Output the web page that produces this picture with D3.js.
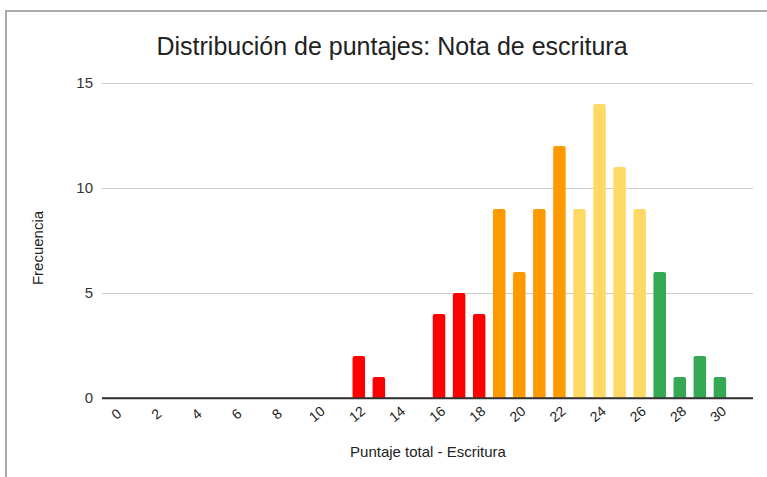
<!DOCTYPE html>
<html>
<head>
<meta charset="utf-8">
<script src="https://cdn.jsdelivr.net/npm/d3@7"></script>
<style>
  body { margin: 0; background: #fff; }
  svg { display: block; font-family: "Liberation Sans", Arial, sans-serif; }
</style>
</head>
<body>
<svg id="chart" width="767" height="477"></svg>
<script>
const scores = [12, 13, 16, 17, 18, 19, 20, 21, 22, 23, 24, 25, 26, 27, 28, 29, 30];
const counts = [2, 1, 4, 5, 4, 9, 6, 9, 12, 9, 14, 11, 9, 6, 1, 2, 1];
const levels = ['bajo', 'bajo', 'bajo', 'bajo', 'bajo', 'medio', 'medio', 'medio', 'medio',
  'bueno', 'bueno', 'bueno', 'bueno', 'alto', 'alto', 'alto', 'alto'];
const xTicks = [0, 2, 4, 6, 8, 10, 12, 14, 16, 18, 20, 22, 24, 26, 28, 30];
const yTicks = [0, 5, 10, 15];

const levelColor = { bajo: '#ff0000', medio: '#ff9900', bueno: '#ffd966', alto: '#34a853' };

const bars = scores.map((score, i) => ({ score, count: counts[i], level: levels[i] }));

const svg = d3.select('#chart');
const plotLeft = 102;
const plotRight = 753;
const plotTop = 83;
const plotBottom = 398;

const x = d3.scaleLinear().domain([-0.8, 31.65]).range([plotLeft, plotRight]);
const y = d3.scaleLinear().domain([0, 15]).range([plotBottom, plotTop]);
const barWidth = 12.5;

// marco del gráfico
svg.append('path')
  .attr('d', 'M6,477V11H767')
  .attr('fill', 'none')
  .attr('stroke', '#aaaaaa')
  .attr('stroke-width', 2);

svg.append('text')
  .attr('x', 392)
  .attr('y', 55)
  .attr('text-anchor', 'middle')
  .attr('font-size', 25)
  .attr('fill', '#222')
  .text('Distribución de puntajes: Nota de escritura');

const yAxis = svg.append('g')
  .attr('transform', `translate(${plotLeft},0)`)
  .call(d3.axisLeft(y).tickValues(yTicks).tickSize(-(plotRight - plotLeft)).tickPadding(9));
yAxis.select('.domain').remove();
yAxis.selectAll('.tick line')
  .attr('stroke', (d) => (d === 0 ? '#333' : '#cccccc'))
  .attr('stroke-width', (d) => (d === 0 ? 1.5 : 1));
yAxis.selectAll('.tick text')
  .attr('font-size', 15)
  .attr('fill', '#333')
  .attr('font-family', '"Liberation Sans", Arial, sans-serif');

function barPath(d) {
  const x0 = x(d.score) - barWidth / 2;
  const x1 = x0 + barWidth;
  const y0 = y(d.count);
  const r = 2;
  return `M${x0},${plotBottom}V${y0 + r}Q${x0},${y0} ${x0 + r},${y0}H${x1 - r}Q${x1},${y0} ${x1},${y0 + r}V${plotBottom}Z`;
}

svg.append('g')
  .selectAll('path')
  .data(bars)
  .join('path')
  .attr('d', barPath)
  .attr('fill', (d) => levelColor[d.level]);

// línea base encima de las barras
svg.append('line')
  .attr('x1', plotLeft).attr('x2', plotRight)
  .attr('y1', plotBottom).attr('y2', plotBottom)
  .attr('stroke', '#333')
  .attr('stroke-width', 1.5);

svg.append('g')
  .selectAll('text')
  .data(xTicks)
  .join('text')
  .attr('transform', (d) => `translate(${x(d) - 1},${plotBottom + 17}) rotate(-40)`)
  .attr('text-anchor', 'middle')
  .attr('dominant-baseline', 'middle')
  .attr('font-size', 14)
  .attr('fill', '#222')
  .text((d) => d);

svg.append('text')
  .attr('x', 428)
  .attr('y', 457)
  .attr('text-anchor', 'middle')
  .attr('font-size', 15)
  .attr('fill', '#222')
  .text('Puntaje total - Escritura');

svg.append('text')
  .attr('transform', 'translate(43,248) rotate(-90)')
  .attr('text-anchor', 'middle')
  .attr('font-size', 15)
  .attr('fill', '#222')
  .text('Frecuencia');
</script>
</body>
</html>
